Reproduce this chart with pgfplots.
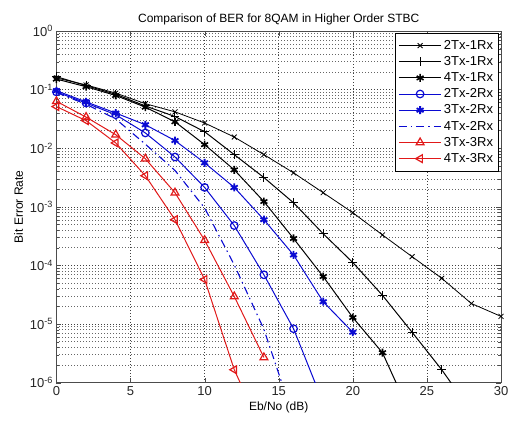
\documentclass[border=0pt]{standalone}
\usepackage{fontspec}
\setmainfont{Liberation Sans}
\usepackage{pgfplots}
\pgfplotsset{compat=1.18}
\definecolor{mblue}{RGB}{10,10,210}
\definecolor{mred}{RGB}{225,25,25}

\begin{document}
\begin{tikzpicture}
\begin{semilogyaxis}[
  name=ax,
  scale only axis,
  width=445pt, height=352pt,
  xmin=0, xmax=30, ymin=1e-6, ymax=1,
  xtick={0,5,...,30},
  ytick={1e-6,1e-5,1e-4,1e-3,1e-2,1e-1,1},
  yticklabels={10\textsuperscript{-6},10\textsuperscript{-5},10\textsuperscript{-4},10\textsuperscript{-3},10\textsuperscript{-2},10\textsuperscript{-1},10\textsuperscript{0}},
  /pgf/number format/assume math mode=true,
  tick align=inside,
  tick pos=both,
  major tick length=5pt, minor tick length=3pt,
  xmajorgrids, ymajorgrids, yminorgrids,
  grid style={black!75, line width=0.6pt, dash pattern=on 0.7pt off 2.3pt},
  minor grid style={black!60, line width=0.6pt, dash pattern=on 0.7pt off 2.3pt},
  axis line style={black!70, line width=0.8pt},
  tick style={black!70},
  tick label style={font=\fontsize{13}{14}\selectfont, text=black!85},
  xlabel={Eb/No (dB)},
  ylabel={Bit Error Rate},
  label style={font=\fontsize{12}{13}\selectfont},
  title={Comparison of BER for 8QAM in Higher Order STBC},
  title style={font=\fontsize{12}{13}\selectfont, yshift=-4pt},
  legend style={at={(rel axis cs:0.994,0.994)}, anchor=north east,
    font=\fontsize{13}{17}\selectfont, draw=black, line width=0.6pt,
    fill=white, inner xsep=3pt, inner ysep=5pt, row sep=1.6pt},
  legend cell align=left,
  legend image code/.code={\draw[#1] (0cm,0cm) -- (1.5cm,0cm);
    \draw[#1, only marks] plot coordinates {(0.75cm,0cm)};},
  every axis plot/.append style={line width=1pt},
]
% 2Tx-1Rx
\addplot[black, line width=0.8pt, mark=x, mark size=3.5pt] coordinates {
 (0,0.158)(2,0.120)(4,0.0871)(6,0.0575)(8,0.0417)(10,0.0269)(12,0.0155)(14,0.00776)
 (16,0.0038)(18,0.00174)(20,7.94e-4)(22,3.31e-4)(24,1.41e-4)(26,6.03e-5)(28,2.24e-5)(30,1.35e-5)};
\addlegendentry{2Tx-1Rx}
% 3Tx-1Rx
\addplot[black, mark=+, mark size=4.5pt] coordinates {
 (0,0.166)(2,0.117)(4,0.0832)(6,0.0525)(8,0.0347)(10,0.0191)(12,0.00776)(14,0.00316)
 (16,0.00117)(18,3.47e-4)(20,1.12e-4)(22,3.09e-5)(24,7.24e-6)(26,1.66e-6)(28,3.2e-7)};
\addlegendentry{3Tx-1Rx}
% 4Tx-1Rx
\addplot[black, mark=asterisk, mark size=4pt, mark options={line width=1.6pt}] coordinates {
 (0,0.151)(2,0.112)(4,0.0794)(6,0.0501)(8,0.0282)(10,0.0115)(12,0.00427)(14,0.00123)
 (16,2.88e-4)(18,6.46e-5)(20,1.29e-5)(22,3.24e-6)(24,2.5e-7)};
\addlegendentry{4Tx-1Rx}
% 2Tx-2Rx
\addplot[mblue, mark=o, mark size=3.8pt, mark options={line width=1.2pt}] coordinates {
 (0,0.0912)(2,0.0589)(4,0.0372)(6,0.0182)(8,0.00708)(10,0.00214)(12,4.79e-4)(14,6.92e-5)
 (16,8.32e-6)(18,4.5e-7)};
\addlegendentry{2Tx-2Rx}
% 3Tx-2Rx
\addplot[mblue, mark=asterisk, mark size=4pt, mark options={line width=1.8pt}] coordinates {
 (0,0.0955)(2,0.0617)(4,0.0398)(6,0.0251)(8,0.0135)(10,0.00562)(12,0.00214)(14,6.03e-4)
 (16,1.51e-4)(18,2.40e-5)(20,7.24e-6)};
\addlegendentry{3Tx-2Rx}
% 4Tx-2Rx
\addplot[mblue, line width=1.1pt, dash pattern=on 8pt off 4pt on 1.5pt off 4pt] coordinates {
 (0,0.0891)(2,0.0562)(4,0.0316)(6,0.0117)(8,0.00417)(10,9.55e-4)(12,1.02e-4)(14,8.13e-6)
 (16,2.5e-7)};
\addlegendentry{4Tx-2Rx}
% 3Tx-3Rx
\addplot[mred, mark=triangle, mark size=4.5pt, mark options={line width=1.2pt}] coordinates {
 (0,0.0631)(2,0.0339)(4,0.0170)(6,0.00661)(8,0.00174)(10,2.69e-4)(12,2.95e-5)(14,2.69e-6)};
\addlegendentry{3Tx-3Rx}
% 4Tx-3Rx
\addplot[mred, mark=triangle, mark size=4.5pt, mark options={rotate=90, line width=1.2pt}] coordinates {
 (0,0.0513)(2,0.0295)(4,0.0123)(6,0.00339)(8,6.03e-4)(10,5.75e-5)(12,1.66e-6)(14,1.3e-7)};
\addlegendentry{4Tx-3Rx}
\end{semilogyaxis}
\pgfresetboundingbox
\path ([shift={(-56.5pt,-38pt)}]ax.south west) rectangle ([shift={(9pt,31pt)}]ax.north east);
\end{tikzpicture}
\end{document}
